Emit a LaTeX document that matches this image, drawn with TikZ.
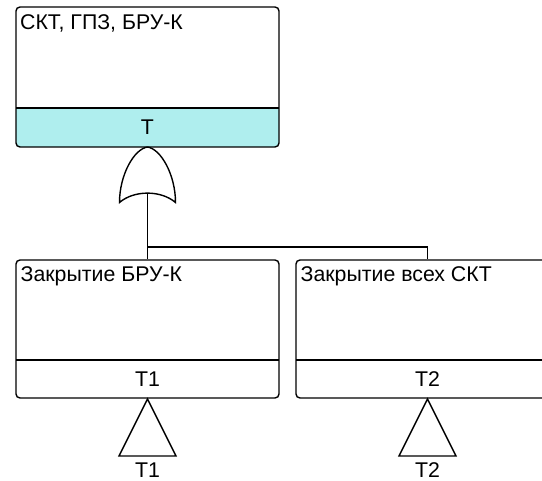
\documentclass[tikz,border=0pt]{standalone}
\usepackage{fontspec}
\setmainfont{Liberation Sans}
\definecolor{idfill}{HTML}{AFEEEE}
\begin{document}
\begin{tikzpicture}[x=1pt,y=-1pt,line width=1.4pt,
  font=\fontsize{21.3}{25}\selectfont,
  evbox/.style={draw, rounded corners=4pt, minimum width=263pt, inner sep=0pt},
  ttl/.style={anchor=base west, inner sep=0pt},
  lbl/.style={anchor=base, inner sep=0pt},
  transfer/.style={draw, line join=miter}]
\useasboundingbox (0,0) rectangle (542,481);
\clip (0,0) rectangle (542,481);
% top event box
\begin{scope}
  \clip (0,108) rectangle (542,160);
  \fill[idfill, rounded corners=4pt] (16,7) rectangle (279,147);
\end{scope}
\node[evbox, minimum height=140pt] (top) at (147.5,77) {};
\draw (16,108) -- (279,108);
\node[ttl] (toptitle) at (19.5,30) {СКТ, ГПЗ, БРУ-К};
\node[lbl] (topid) at (147.5,135) {T};
% OR gate
\draw[fill=white] (119.5,202.5) .. controls (119.5,175) and (134,149) .. (147.5,147)
  .. controls (161,149) and (175.5,175) .. (175.5,202.5)
  .. controls (161,190) and (134,190) .. cycle;
\coordinate (gin) at (147.5,193);
% left event box
\node[evbox, minimum height=138pt] (left) at (147.5,329) {};
\draw (16,360) -- (279,360);
\node[ttl] (lefttitle) at (20,282) {Закрытие БРУ-К};
\node[lbl] (leftid) at (147.5,387) {T1};
% right event box
\node[evbox, minimum height=138pt] (right) at (427.5,329) {};
\draw (296,360) -- (559,360);
\node[ttl] (righttitle) at (300,282) {Закрытие всех СКТ};
\node[lbl] (rightid) at (427.5,387) {T2};
% connectors
\coordinate (bus) at (147.5,247);
\draw (gin) -- (left.north);
\draw (bus) -- (bus -| right.north) -- (right.north);
% transfer triangles
\draw[transfer] (147.5,399) -- (119,456) -- (176,456) -- cycle;
\node[lbl] (t1lbl) at (147.5,478) {T1};
\draw[transfer] (427.5,399) -- (399,456) -- (456,456) -- cycle;
\node[lbl] (t2lbl) at (427.5,478) {T2};
\end{tikzpicture}
\end{document}
